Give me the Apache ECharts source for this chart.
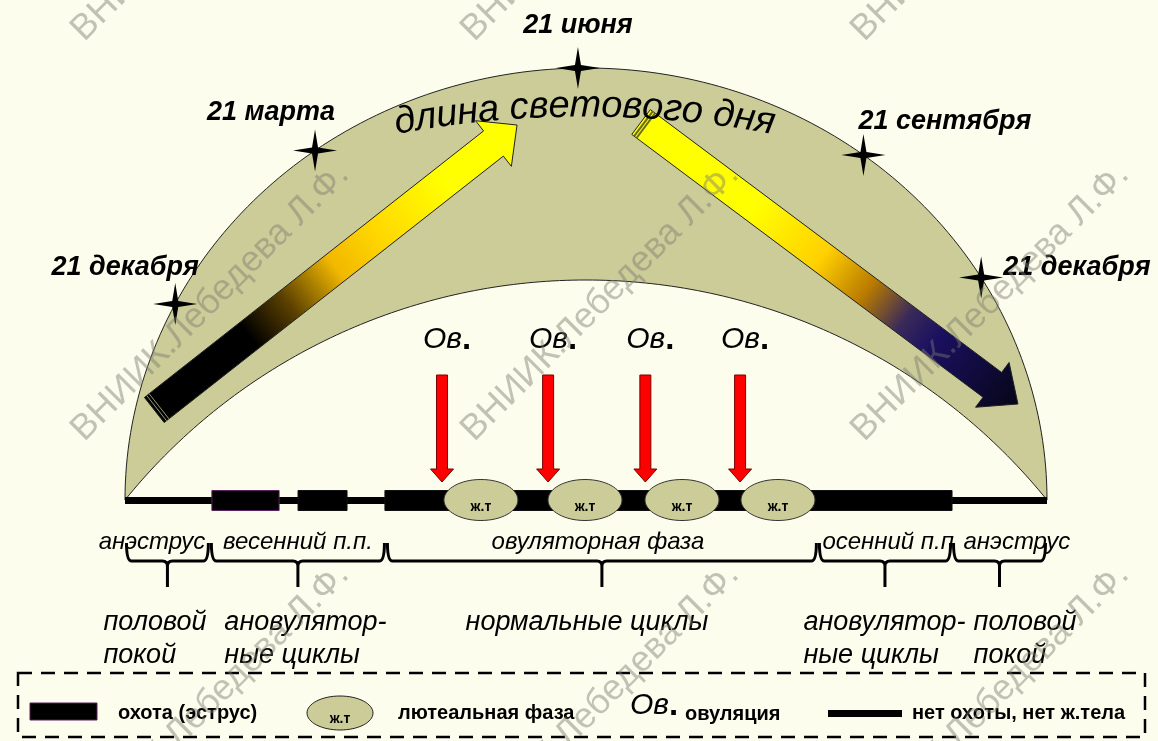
<!DOCTYPE html>
<html><head><meta charset="utf-8">
<script src="https://cdn.jsdelivr.net/npm/echarts@6/dist/echarts.min.js"></script>
<style>html,body{margin:0;padding:0;background:#FCFDEC;}#c{width:1158px;height:741px;}</style>
</head><body><div id="c"></div>
<script>
// ================= DATA =================
// time axis: days counted from 21 December (0 .. 365)
const seasonDates = ['21 декабря', '21 марта', '21 июня', '21 сентября', '21 декабря'];
const seasonArchAngle = [27, 54, 89, 127, 149];          // place of each date along the arch, degrees
const phaseNames = ['анэструс', 'весенний п.п.', 'овуляторная фаза', 'осенний п.п', 'анэструс'];
const phaseBounds = [0, 33.6, 103.3, 274.3, 327.4, 365];  // days
const cycleTypes = ['половой\nпокой', 'ановулятор-\nные циклы', 'нормальные циклы', 'ановулятор-\nные циклы', 'половой\nпокой'];
const estrusStart = [34.4, 68.5, 102.9];
const estrusEnd = [61.0, 87.9, 327.4];
const ovulationDay = [125.5, 167.5, 206.0, 243.5];
const lutealDay = [140.9, 182.1, 220.5, 258.5];
const ovulationLabel = 'Ов.';
const lutealLabel = 'ж.т';
const titleText = 'длина светового дня';
const legendLabels = ['охота (эструс)', 'лютеальная фаза', 'овуляция', 'нет охоты, нет ж.тела'];
const watermarkText = 'ВНИИК.Лебедева Л.Ф.';

// ================= LAYOUT / STYLE =================
const FONT = '"Liberation Sans", Arial, sans-serif';
const BASE_Y = 500, ARCH_H = 432, INNER_H = 220;
const KHAKI = '#CCCC99';
const dateLabelLayout = [[-50, -36, 'center'], [-44, -38, 'center'], [0, -43, 'center'], [-5, -33, 'left'], [22, -10, 'left']];
const lightArrowLayout = [
  {tail: [11.6, 410], tip: [155.2, 125], hl: 30, hw: 58, w: 32,
   stops: [[0, '#000000'], [0.26, '#000000'], [0.37, '#5a4000'], [0.5, '#F2B800'], [0.62, '#FFD800'], [0.8, '#FFFF00'], [1, '#FFFF00']]},
  {tail: [204.3, 122], tip: [353.5, 404], hl: 32, hw: 56, w: 31,
   stops: [[0, '#FFFF00'], [0.3, '#FFFF00'], [0.48, '#FFD000'], [0.6, '#B87A00'], [0.7, '#3a2a5a'], [0.78, '#1A1060'], [1, '#060618']]}
];

function T(text, x, y, o) {
  o = o || {};
  return {type: 'text', x: x, y: y, rotation: o.rotation || 0, z2: o.z2 || 10,
    style: {text: text, x: 0, y: 0, fill: o.fill || '#000',
      fontSize: o.size || 16, fontFamily: FONT, fontWeight: o.weight || 'normal', fontStyle: o.style || 'normal',
      align: o.align || 'center', textAlign: o.align || 'center',
      verticalAlign: o.valign || 'middle', textVerticalAlign: o.valign || 'middle',
      rich: o.rich, opacity: o.opacity == null ? 1 : o.opacity}};
}
function archGeom(api) {
  const L = api.coord([phaseBounds[0], BASE_Y]), R = api.coord([phaseBounds[phaseBounds.length - 1], BASE_Y]);
  const cx = (L[0] + R[0]) / 2, a = (R[0] - L[0]) / 2, by = L[1];
  const rIn = (a * a + INNER_H * INNER_H) / (2 * INNER_H);
  return {cx: cx, a: a, by: by, b: ARCH_H, rIn: rIn, cyIn: by - INNER_H + rIn};
}
function arrowPoly(Tl, H, w, hw, hl) {
  const dx = H[0] - Tl[0], dy = H[1] - Tl[1], len = Math.hypot(dx, dy);
  const ux = dx / len, uy = dy / len, nx = -uy, ny = ux;
  const B = [H[0] - ux * hl, H[1] - uy * hl];
  return [[Tl[0] + nx * w / 2, Tl[1] + ny * w / 2], [B[0] + nx * w / 2, B[1] + ny * w / 2],
    [B[0] + nx * hw / 2, B[1] + ny * hw / 2], [H[0], H[1]], [B[0] - nx * hw / 2, B[1] - ny * hw / 2],
    [B[0] - nx * w / 2, B[1] - ny * w / 2], [Tl[0] - nx * w / 2, Tl[1] - ny * w / 2]];
}
const ovRich = {a: {fontSize: 30, fontStyle: 'italic', fontFamily: FONT, fill: '#000'},
                b: {fontSize: 33, fontWeight: 'bold', fontFamily: FONT, fill: '#000'}};

const series = [];
// arch band
series.push({type: 'custom', data: [[phaseBounds[0], phaseBounds[5]]], z: 1,
  renderItem: function (p, api) {
    const g = archGeom(api), pts = [], N = 160;
    for (let i = 0; i <= N; i++) { const t = Math.PI - Math.PI * i / N; pts.push([g.cx + g.a * Math.cos(t), g.by - g.b * Math.sin(t)]); }
    const f = Math.asin(g.a / g.rIn);
    for (let i = 0; i <= N; i++) { const q = f - 2 * f * i / N; pts.push([g.cx + g.rIn * Math.sin(q), g.cyIn - g.rIn * Math.cos(q)]); }
    return {type: 'polygon', shape: {points: pts}, style: {fill: KHAKI, stroke: '#222', lineWidth: 1}};
  }});
// day-length arrows
series.push({type: 'custom', data: lightArrowLayout.map((d, i) => [d.tail[0], i]), z: 2,
  renderItem: function (p, api) {
    const d = lightArrowLayout[p.dataIndex];
    const Tl = api.coord(d.tail), H = api.coord(d.tip);
    const grad = new echarts.graphic.LinearGradient(Tl[0], Tl[1], H[0], H[1],
      d.stops.map(s => ({offset: s[0], color: s[1]})), true);
    const dx = H[0] - Tl[0], dy = H[1] - Tl[1], len = Math.hypot(dx, dy), ux = dx / len, uy = dy / len;
    const kids = [{type: 'polygon', shape: {points: arrowPoly(Tl, H, d.w, d.hw, d.hl)}, style: {fill: grad, stroke: '#222', lineWidth: 1}}];
    const lineCol = p.dataIndex === 0 ? '#9a9a7a' : '#6b6b20';
    [3, 6].forEach(off => {
      const cx = Tl[0] + ux * off, cy = Tl[1] + uy * off;
      kids.push({type: 'line', shape: {x1: cx - uy * d.w / 2, y1: cy + ux * d.w / 2, x2: cx + uy * d.w / 2, y2: cy - ux * d.w / 2},
        style: {stroke: lineCol, lineWidth: p.dataIndex === 0 ? 1 : 2}});
    });
    return {type: 'group', children: kids};
  }});
// curved title
series.push({type: 'custom', data: [[182, 106]], z: 3,
  renderItem: function (p, api) {
    const top = api.coord([api.value(0), api.value(1)]);
    const R = 1035, size = 38;
    const ctx = document.createElement('canvas').getContext('2d');
    ctx.font = 'italic ' + size + 'px ' + FONT;
    const ws = Array.from(titleText).map(ch => ctx.measureText(ch).width);
    const W = ws.reduce((a, b) => a + b, 0);
    let s = -W / 2; const kids = [];
    Array.from(titleText).forEach((ch, i) => {
      const m = s + ws[i] / 2; s += ws[i];
      const al = m / R;
      kids.push(T(ch, top[0] + R * Math.sin(al), top[1] + R - R * Math.cos(al), {rotation: -al, size: size, style: 'italic'}));
    });
    return {type: 'group', children: kids};
  }});
// stars and dates
series.push({type: 'custom', data: seasonArchAngle.map((a, i) => [a, i]), z: 4,
  renderItem: function (p, api) {
    const g = archGeom(api), th = api.value(0) * Math.PI / 180, i = p.dataIndex;
    const x = g.cx - g.a * Math.cos(th), y = g.by - g.b * Math.sin(th);
    const w = 3, rh = 22, rv = 21;
    const pts = [[0, -rv], [w, -w], [rh, 0], [w, w], [0, rv], [-w, w], [-rh, 0], [-w, -w]].map(q => [x + q[0], y + q[1]]);
    const L = dateLabelLayout[i];
    return {type: 'group', children: [
      {type: 'polygon', shape: {points: pts}, style: {fill: '#000'}},
      T(seasonDates[i], x + L[0], y + L[1], {size: 27, weight: 'bold', style: 'italic', align: L[2]})
    ]};
  }});
// baseline (no estrus, no corpus luteum)
series.push({type: 'custom', data: [[phaseBounds[0], phaseBounds[5]]], z: 5,
  renderItem: function (p, api) {
    const a = api.coord([api.value(0), BASE_Y]), b = api.coord([api.value(1), BASE_Y]);
    return {type: 'rect', shape: {x: a[0], y: a[1] - 3, width: b[0] - a[0], height: 7}, style: {fill: '#000'}};
  }});
// estrus blocks
series.push({type: 'custom', data: estrusStart.map((s, i) => [s, estrusEnd[i]]), z: 6,
  renderItem: function (p, api) {
    const a = api.coord([api.value(0), BASE_Y]), b = api.coord([api.value(1), BASE_Y]);
    return {type: 'rect', shape: {x: a[0], y: a[1] - 9.5, width: b[0] - a[0], height: 20},
      style: {fill: '#000', stroke: p.dataIndex === 0 ? '#5a2060' : '#111', lineWidth: 1}};
  }});
// ovulation arrows
series.push({type: 'custom', data: ovulationDay.map(d => [d, BASE_Y]), z: 7,
  renderItem: function (p, api) {
    const x = api.coord([api.value(0), BASE_Y])[0];
    return {type: 'group', children: [
      {type: 'polygon', shape: {points: arrowPoly([x, 375], [x, 482], 11, 23, 13)}, style: {fill: '#FF0000', stroke: '#7a0000', lineWidth: 1}},
      T('{a|Ов}{b|.}', x + 5, 340, {rich: ovRich})
    ]};
  }});
// luteal phases
series.push({type: 'custom', data: lutealDay.map(d => [d, BASE_Y]), z: 8,
  renderItem: function (p, api) {
    const c = api.coord([api.value(0), BASE_Y]);
    return {type: 'group', children: [
      {type: 'ellipse', shape: {cx: c[0], cy: c[1], rx: 37, ry: 20.5}, style: {fill: KHAKI, stroke: '#333', lineWidth: 1}},
      T(lutealLabel, c[0], c[1] + 7, {size: 14, weight: 'bold'})
    ]};
  }});
// braces + phase names + cycle types
series.push({type: 'custom', data: phaseNames.map((n, i) => [phaseBounds[i], phaseBounds[i + 1]]), z: 9,
  renderItem: function (p, api) {
    const i = p.dataIndex;
    const x0 = api.coord([api.value(0), BASE_Y])[0] + 1.5, x1 = api.coord([api.value(1), BASE_Y])[0] - 1.5;
    const xm = (x0 + x1) / 2, yT = 543, yH = 561, yB = 587, r = 5;
    const d = 'M' + x0 + ' ' + yT + ' Q' + x0 + ' ' + yH + ' ' + (x0 + r) + ' ' + yH + ' L' + (xm - r) + ' ' + yH +
      ' Q' + xm + ' ' + yH + ' ' + xm + ' ' + (yH + r) + ' L' + xm + ' ' + yB +
      ' M' + xm + ' ' + (yH + r) + ' Q' + xm + ' ' + yH + ' ' + (xm + r) + ' ' + yH + ' L' + (x1 - r) + ' ' + yH +
      ' Q' + x1 + ' ' + yH + ' ' + x1 + ' ' + yT;
    const kids = [{type: 'path', shape: {pathData: d}, style: {fill: null, stroke: '#000', lineWidth: 3}}];
    const nameLayout = [[x1 - 3, 'right'], [xm, 'center'], [xm - 4, 'center'], [x0 + 3, 'left'], [x0 + 10, 'left']][i];
    kids.push(T(phaseNames[i], nameLayout[0], 542, {size: 24, style: 'italic', align: nameLayout[1]}));
    const cyc = [[x0 - 23, 'left'], [x0 + 13, 'left'], [xm - 15, 'center'], [x0 - 16, 'left'], [x0 + 20, 'left']][i];
    cycleTypes[i].split('\n').forEach((line, k) => {
      kids.push(T(line, cyc[0], 622 + k * 33, {size: 27, style: 'italic', align: cyc[1]}));
    });
    return {type: 'group', children: kids};
  }});

// legend + watermark
const graphics = [
  {type: 'rect', shape: {x: 18, y: 673, width: 1127, height: 64}, style: {fill: null, stroke: '#000', lineWidth: 2.5, lineDash: [14, 9]}, z: 20},
  {type: 'rect', shape: {x: 30, y: 703, width: 67, height: 17}, style: {fill: '#000', stroke: '#5a2060', lineWidth: 1}, z: 20},
  T(legendLabels[0], 118, 713, {size: 20, weight: 'bold', align: 'left'}),
  {type: 'ellipse', shape: {cx: 340, cy: 713, rx: 33, ry: 17}, style: {fill: KHAKI, stroke: '#222', lineWidth: 1}, z: 20},
  T(lutealLabel, 340, 719, {size: 14, weight: 'bold'}),
  T(legendLabels[1], 398, 713, {size: 20, weight: 'bold', align: 'left'}),
  T('{a|Ов}{b|.}', 630, 706, {align: 'left', rich: ovRich}),
  T(legendLabels[2], 685, 714, {size: 20, weight: 'bold', align: 'left'}),
  {type: 'rect', shape: {x: 828, y: 710, width: 74, height: 7}, style: {fill: '#000'}, z: 20},
  T(legendLabels[3], 912, 713, {size: 20, weight: 'bold', align: 'left'})
];
graphics.forEach(g => { if (g.type === 'text') g.z = 20; });
[48, 448, 848].forEach(yy => [90, 480, 870].forEach(xx => {
  const t = T(watermarkText, xx, yy, {size: 36, align: 'left', valign: 'bottom', rotation: Math.PI / 4, fill: '#7a7a72', opacity: 0.45});
  t.z = 30; t.silent = true; graphics.push(t);
}));

const chart = echarts.init(document.getElementById('c'));
chart.setOption({
  animation: false,
  backgroundColor: '#FCFDEC',
  grid: {left: 125, right: 111, top: 0, bottom: 0},
  xAxis: {type: 'value', min: 0, max: 365, show: false},
  yAxis: {type: 'value', min: 0, max: 741, inverse: true, show: false},
  series: series.map(s => Object.assign({coordinateSystem: 'cartesian2d', silent: true, clip: false}, s)),
  graphic: {elements: graphics}
});
</script></body></html>
